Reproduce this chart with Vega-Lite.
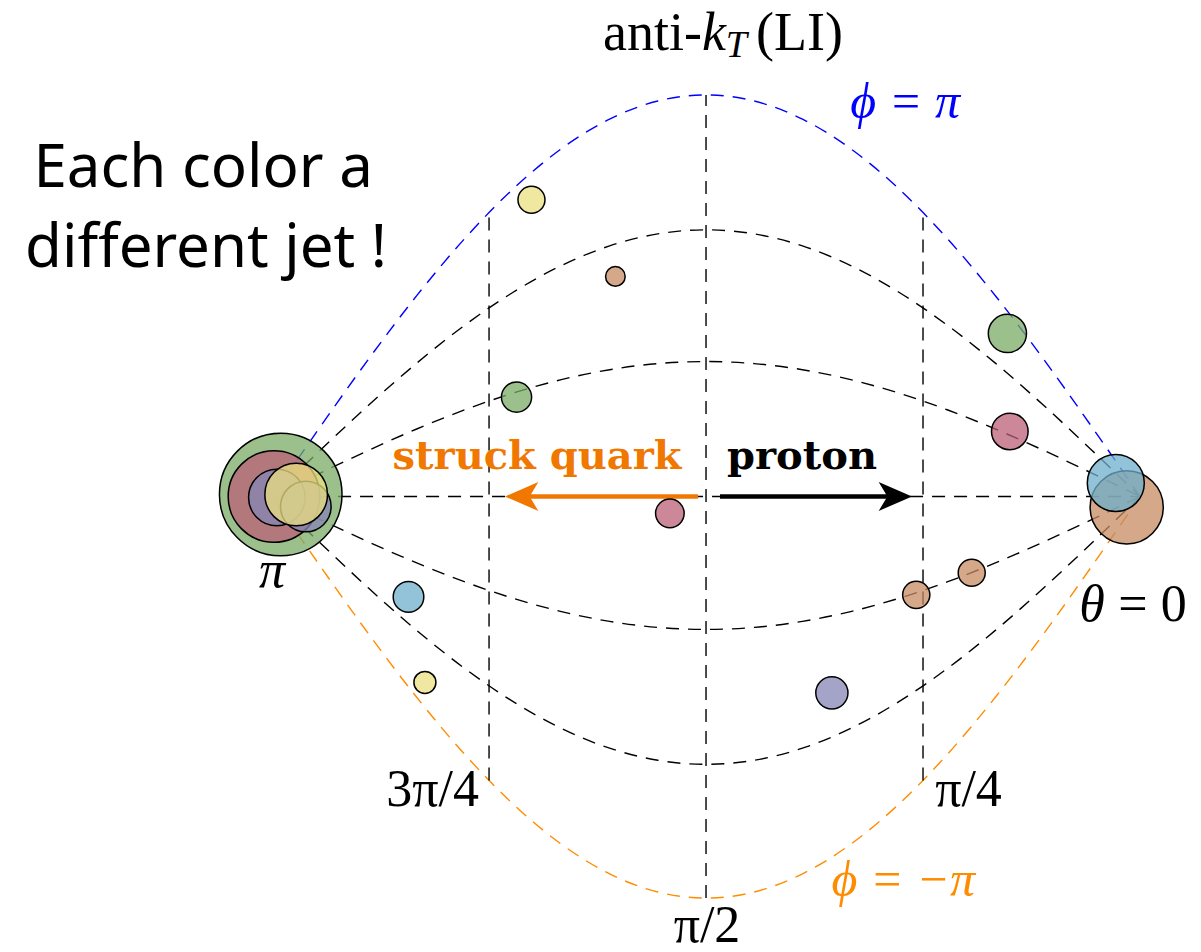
{
  "$schema": "https://vega.github.io/schema/vega-lite/v6.json",
  "width": 1201,
  "height": 952,
  "padding": 0,
  "autosize": {"type": "fit", "contains": "padding"},
  "background": "white",
  "config": {"view": {"stroke": null}},
  "datasets": {
    "curves": [
      {"c": "b", "t": 0, "v": 0}, {"c": "b", "t": 10, "v": 0.1736}, {"c": "b", "t": 20, "v": 0.342}, {"c": "b", "t": 30, "v": 0.5}, {"c": "b", "t": 40, "v": 0.6428}, {"c": "b", "t": 50, "v": 0.766}, {"c": "b", "t": 60, "v": 0.866}, {"c": "b", "t": 70, "v": 0.9397}, {"c": "b", "t": 80, "v": 0.9848}, {"c": "b", "t": 90, "v": 1}, {"c": "b", "t": 100, "v": 0.9848}, {"c": "b", "t": 110, "v": 0.9397}, {"c": "b", "t": 120, "v": 0.866}, {"c": "b", "t": 130, "v": 0.766}, {"c": "b", "t": 140, "v": 0.6428}, {"c": "b", "t": 150, "v": 0.5}, {"c": "b", "t": 160, "v": 0.342}, {"c": "b", "t": 170, "v": 0.1736}, {"c": "b", "t": 180, "v": 0},
      {"c": "k1", "t": 0, "v": 0}, {"c": "k1", "t": 10, "v": 0.1153}, {"c": "k1", "t": 20, "v": 0.2271}, {"c": "k1", "t": 30, "v": 0.332}, {"c": "k1", "t": 40, "v": 0.4268}, {"c": "k1", "t": 50, "v": 0.5086}, {"c": "k1", "t": 60, "v": 0.575}, {"c": "k1", "t": 70, "v": 0.624}, {"c": "k1", "t": 80, "v": 0.6539}, {"c": "k1", "t": 90, "v": 0.664}, {"c": "k1", "t": 100, "v": 0.6539}, {"c": "k1", "t": 110, "v": 0.624}, {"c": "k1", "t": 120, "v": 0.575}, {"c": "k1", "t": 130, "v": 0.5086}, {"c": "k1", "t": 140, "v": 0.4268}, {"c": "k1", "t": 150, "v": 0.332}, {"c": "k1", "t": 160, "v": 0.2271}, {"c": "k1", "t": 170, "v": 0.1153}, {"c": "k1", "t": 180, "v": 0},
      {"c": "k2", "t": 0, "v": 0}, {"c": "k2", "t": 10, "v": 0.0583}, {"c": "k2", "t": 20, "v": 0.1149}, {"c": "k2", "t": 30, "v": 0.168}, {"c": "k2", "t": 40, "v": 0.216}, {"c": "k2", "t": 50, "v": 0.2574}, {"c": "k2", "t": 60, "v": 0.291}, {"c": "k2", "t": 70, "v": 0.3157}, {"c": "k2", "t": 80, "v": 0.3309}, {"c": "k2", "t": 90, "v": 0.336}, {"c": "k2", "t": 100, "v": 0.3309}, {"c": "k2", "t": 110, "v": 0.3157}, {"c": "k2", "t": 120, "v": 0.291}, {"c": "k2", "t": 130, "v": 0.2574}, {"c": "k2", "t": 140, "v": 0.216}, {"c": "k2", "t": 150, "v": 0.168}, {"c": "k2", "t": 160, "v": 0.1149}, {"c": "k2", "t": 170, "v": 0.0583}, {"c": "k2", "t": 180, "v": 0},
      {"c": "k0", "t": 0, "v": 0}, {"c": "k0", "t": 180, "v": 0},
      {"c": "k3", "t": 0, "v": 0}, {"c": "k3", "t": 10, "v": -0.0575}, {"c": "k3", "t": 20, "v": -0.1132}, {"c": "k3", "t": 30, "v": -0.1655}, {"c": "k3", "t": 40, "v": -0.2128}, {"c": "k3", "t": 50, "v": -0.2535}, {"c": "k3", "t": 60, "v": -0.2866}, {"c": "k3", "t": 70, "v": -0.311}, {"c": "k3", "t": 80, "v": -0.326}, {"c": "k3", "t": 90, "v": -0.331}, {"c": "k3", "t": 100, "v": -0.326}, {"c": "k3", "t": 110, "v": -0.311}, {"c": "k3", "t": 120, "v": -0.2866}, {"c": "k3", "t": 130, "v": -0.2535}, {"c": "k3", "t": 140, "v": -0.2128}, {"c": "k3", "t": 150, "v": -0.1655}, {"c": "k3", "t": 160, "v": -0.1132}, {"c": "k3", "t": 170, "v": -0.0575}, {"c": "k3", "t": 180, "v": 0},
      {"c": "k4", "t": 0, "v": 0}, {"c": "k4", "t": 10, "v": -0.1158}, {"c": "k4", "t": 20, "v": -0.2281}, {"c": "k4", "t": 30, "v": -0.3335}, {"c": "k4", "t": 40, "v": -0.4287}, {"c": "k4", "t": 50, "v": -0.5109}, {"c": "k4", "t": 60, "v": -0.5776}, {"c": "k4", "t": 70, "v": -0.6268}, {"c": "k4", "t": 80, "v": -0.6569}, {"c": "k4", "t": 90, "v": -0.667}, {"c": "k4", "t": 100, "v": -0.6569}, {"c": "k4", "t": 110, "v": -0.6268}, {"c": "k4", "t": 120, "v": -0.5776}, {"c": "k4", "t": 130, "v": -0.5109}, {"c": "k4", "t": 140, "v": -0.4287}, {"c": "k4", "t": 150, "v": -0.3335}, {"c": "k4", "t": 160, "v": -0.2281}, {"c": "k4", "t": 170, "v": -0.1158}, {"c": "k4", "t": 180, "v": 0},
      {"c": "o", "t": 0, "v": 0}, {"c": "o", "t": 10, "v": -0.1736}, {"c": "o", "t": 20, "v": -0.342}, {"c": "o", "t": 30, "v": -0.5}, {"c": "o", "t": 40, "v": -0.6428}, {"c": "o", "t": 50, "v": -0.766}, {"c": "o", "t": 60, "v": -0.866}, {"c": "o", "t": 70, "v": -0.9397}, {"c": "o", "t": 80, "v": -0.9848}, {"c": "o", "t": 90, "v": -1}, {"c": "o", "t": 100, "v": -0.9848}, {"c": "o", "t": 110, "v": -0.9397}, {"c": "o", "t": 120, "v": -0.866}, {"c": "o", "t": 130, "v": -0.766}, {"c": "o", "t": 140, "v": -0.6428}, {"c": "o", "t": 150, "v": -0.5}, {"c": "o", "t": 160, "v": -0.342}, {"c": "o", "t": 170, "v": -0.1736}, {"c": "o", "t": 180, "v": 0}
    ],
    "particles": [
      {"jet": "green", "t": 178.2, "v": 0.005, "E": 118.05},
      {"jet": "pink", "t": 179.6, "v": 0.0, "E": 65.9},
      {"jet": "lavender", "t": 179.0, "v": -0.0025, "E": 25.16},
      {"jet": "lavender", "t": 173.0, "v": -0.025, "E": 20.11},
      {"jet": "yellow", "t": 175.0, "v": 0.005, "E": 30.78},
      {"jet": "tan", "t": 2.76, "v": -0.027, "E": 42.08},
      {"jet": "lightblue", "t": 5.02, "v": 0.0336, "E": 25.52},
      {"jet": "yellow", "t": 126.2, "v": 0.739, "E": 5.73},
      {"jet": "tan", "t": 108.8, "v": 0.548, "E": 3.02},
      {"jet": "green", "t": 129.3, "v": 0.2475, "E": 7.16},
      {"jet": "pink", "t": 97.5, "v": -0.042, "E": 6.42},
      {"jet": "green", "t": 27.5, "v": 0.406, "E": 11.46},
      {"jet": "pink", "t": 27.0, "v": 0.162, "E": 10.52},
      {"jet": "tan", "t": 46.4, "v": -0.245, "E": 5.81},
      {"jet": "tan", "t": 34.9, "v": -0.19, "E": 5.73},
      {"jet": "lightblue", "t": 151.7, "v": -0.25, "E": 7.35},
      {"jet": "yellow", "t": 148.3, "v": -0.463, "E": 3.8},
      {"jet": "lavender", "t": 63.9, "v": -0.489, "E": 8.14}
    ]
  },
  "encoding": {
    "x": {"field": "t", "type": "quantitative", "axis": null, "scale": {"domain": [-12.65, 236.42], "reverse": true, "zero": false, "nice": false}},
    "y": {"field": "v", "type": "quantitative", "axis": null, "scale": {"domain": [-1.1318, 1.2363], "zero": false, "nice": false}}
  },
  "layer": [
    {
      "data": {"name": "curves"},
      "mark": {"type": "line", "strokeDash": [13, 9], "strokeWidth": 1.4, "interpolate": "monotone"},
      "encoding": {
        "detail": {"field": "c", "type": "nominal"},
        "stroke": {"field": "c", "type": "nominal", "legend": null, "scale": {"domain": ["b", "k1", "k2", "k0", "k3", "k4", "o"], "range": ["#0000ff", "#000000", "#000000", "#000000", "#000000", "#000000", "#ff8c00"]}}
      }
    },
    {
      "data": {"values": [{"t": 135, "v": -0.7071, "v2": 0.7071}, {"t": 90, "v": -1, "v2": 1}, {"t": 45, "v": -0.7071, "v2": 0.7071}]},
      "mark": {"type": "rule", "strokeDash": [13, 9], "strokeWidth": 1.4, "color": "#000000"},
      "encoding": {"y2": {"field": "v2"}}
    },
    {
      "data": {"values": [{"t": 91.66, "t2": 127.2, "v": 0}]},
      "mark": {"type": "rule", "strokeWidth": 4.5, "color": "#f07800"},
      "encoding": {"x2": {"field": "t2"}}
    },
    {
      "data": {"values": [{"t": 131.69, "v": 0}]},
      "mark": {"type": "point", "shape": "M 0 0 L 2.3 -1 L 1.7 0 L 2.3 1 Z", "filled": true, "fill": "#f07800", "size": 841, "opacity": 1, "strokeWidth": 0}
    },
    {
      "data": {"values": [{"t": 87.1, "t2": 51.6, "v": 0}]},
      "mark": {"type": "rule", "strokeWidth": 4.5, "color": "#000000"},
      "encoding": {"x2": {"field": "t2"}}
    },
    {
      "data": {"values": [{"t": 47.28, "v": 0}]},
      "mark": {"type": "point", "shape": "M 0 0 L -2.3 -1 L -1.7 0 L -2.3 1 Z", "filled": true, "fill": "#000000", "size": 841, "opacity": 1, "strokeWidth": 0}
    },
    {
      "data": {"name": "particles"},
      "mark": {"type": "point", "shape": "circle", "filled": true, "fillOpacity": 0.75, "stroke": "#000000", "strokeWidth": 1.5, "strokeOpacity": 1},
      "encoding": {
        "fill": {"field": "jet", "type": "nominal", "legend": null, "scale": {"domain": ["green", "pink", "lavender", "yellow", "tan", "lightblue"], "range": ["#7aab66", "#bb6077", "#8686b6", "#ebe080", "#c68b60", "#6eafcb"]}},
        "size": {"field": "E", "type": "quantitative", "legend": null, "scale": {"type": "linear", "domain": [0, 100], "range": [0, 12732], "zero": true}}
      }
    },
    {
      "data": {"values": [{"s": "3π/4", "t": 146.7, "v": -0.771}, {"s": "π/4", "t": 35.57, "v": -0.771}, {"s": "π/2", "t": 89.8, "v": -1.109}]},
      "mark": {"type": "text", "font": "Liberation Serif", "fontSize": 52, "align": "center", "baseline": "alphabetic", "color": "#000000"},
      "encoding": {"text": {"field": "s"}}
    },
    {
      "data": {"values": [{"s": "= 0", "t": 4.5, "v": -0.311}]},
      "mark": {"type": "text", "font": "Liberation Serif", "fontSize": 52, "align": "left", "baseline": "alphabetic", "color": "#000000"},
      "encoding": {"text": {"field": "s"}}
    },
    {
      "data": {"values": [{"s": "π", "t": 180.0, "v": -0.2264}]},
      "mark": {"type": "text", "font": "Liberation Serif", "fontStyle": "italic", "fontSize": 52, "align": "center", "baseline": "alphabetic", "color": "#000000"},
      "encoding": {"text": {"field": "s"}}
    },
    {
      "data": {"values": [{"s": "θ", "t": 7.3, "v": -0.311}]},
      "mark": {"type": "text", "font": "Liberation Serif", "fontStyle": "italic", "fontSize": 52, "align": "right", "baseline": "alphabetic", "color": "#000000"},
      "encoding": {"text": {"field": "s"}}
    },
    {
      "data": {"values": [{"s": "ϕ = π", "t": 48.7, "v": 0.943}]},
      "mark": {"type": "text", "font": "Liberation Serif", "fontStyle": "italic", "fontSize": 50, "align": "center", "baseline": "alphabetic", "color": "#0000ff"},
      "encoding": {"text": {"field": "s"}}
    },
    {
      "data": {"values": [{"s": "ϕ = −π", "t": 49.1, "v": -0.995}]},
      "mark": {"type": "text", "font": "Liberation Serif", "fontStyle": "italic", "fontSize": 50, "align": "center", "baseline": "alphabetic", "color": "#ff8c00"},
      "encoding": {"text": {"field": "s"}}
    },
    {
      "data": {"values": [{"s": "struck quark", "t": 125.05, "v": 0.0672}]},
      "mark": {"type": "text", "font": "DejaVu Serif", "fontWeight": "bold", "fontSize": 40, "align": "center", "baseline": "alphabetic", "color": "#f07800"},
      "encoding": {"text": {"field": "s"}}
    },
    {
      "data": {"values": [{"s": "proton", "t": 70.1, "v": 0.0672}]},
      "mark": {"type": "text", "font": "DejaVu Serif", "fontWeight": "bold", "fontSize": 40, "align": "center", "baseline": "alphabetic", "color": "#000000"},
      "encoding": {"text": {"field": "s"}}
    },
    {
      "data": {"values": [{"s": "Each color a", "t": 194.3, "v": 0.771}, {"s": "different jet !", "t": 193.7, "v": 0.572}]},
      "mark": {"type": "text", "font": "Noto Sans", "fontSize": 60, "align": "center", "baseline": "alphabetic", "color": "#000000"},
      "encoding": {"text": {"field": "s"}}
    },
    {
      "data": {"values": [{"s": "anti-", "t": 90.83, "v": 1.112}]},
      "mark": {"type": "text", "font": "Liberation Serif", "fontSize": 54, "align": "right", "baseline": "alphabetic", "color": "#000000"},
      "encoding": {"text": {"field": "s"}}
    },
    {
      "data": {"values": [{"s": "k", "t": 90.83, "v": 1.112}]},
      "mark": {"type": "text", "font": "Liberation Serif", "fontStyle": "italic", "fontSize": 54, "align": "left", "baseline": "alphabetic", "color": "#000000"},
      "encoding": {"text": {"field": "s"}}
    },
    {
      "data": {"values": [{"s": "T", "t": 85.9, "v": 1.0945}]},
      "mark": {"type": "text", "font": "Liberation Serif", "fontStyle": "italic", "fontSize": 38, "align": "left", "baseline": "alphabetic", "color": "#000000"},
      "encoding": {"text": {"field": "s"}}
    },
    {
      "data": {"values": [{"s": "(LI)", "t": 79.63, "v": 1.112}]},
      "mark": {"type": "text", "font": "Liberation Serif", "fontSize": 54, "align": "left", "baseline": "alphabetic", "color": "#000000"},
      "encoding": {"text": {"field": "s"}}
    }
  ]
}
